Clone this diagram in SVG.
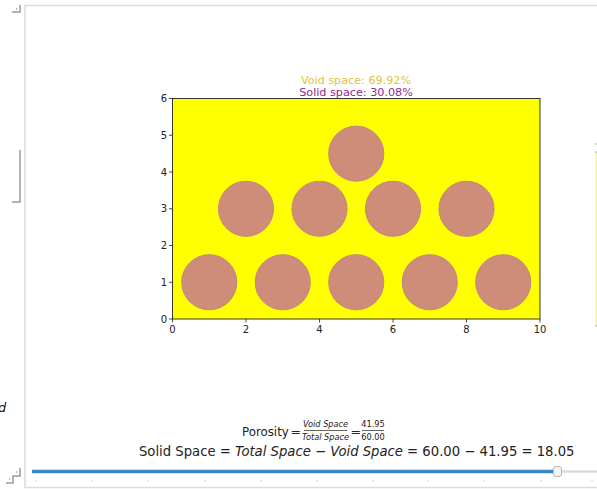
<svg xmlns="http://www.w3.org/2000/svg" width="597" height="489" viewBox="0 0 597 489">
<style>
text{font-family:"DejaVu Sans","Liberation Sans",sans-serif;fill:#222}
.tick{font-size:10px}
.grain{fill:#ce8d79;stroke:#c4867f;stroke-width:1}
.frame{stroke:#dcdcdc;stroke-width:1.5;fill:none}
.ico{stroke:#9a9a9a;stroke-width:1.5;fill:none}
.tk{stroke:#222;stroke-width:0.8}
.st{stroke:#c8c8c8;stroke-width:1}
</style>
<rect width="597" height="489" fill="#fff"/>
<g id="frame">
<path class="frame" d="M24,5.5H597M25,5V487.5H597"/>
<path class="ico" d="M20,5V12H12"/>
<path class="ico" d="M16,9h1"/>
<path class="ico" d="M20,150V202H12"/>
<path class="ico" d="M20,468V476H13V483H6"/>
<path class="ico" d="M16,472h1M9,479h1"/>
<text x="-2" y="412" style="font-size:13px;font-style:italic;fill:#111">d</text>
<rect x="595" y="152" width="2" height="174" fill="#fbfb9c"/>
<path d="M595,144h2M595,152h2M595,326h2" stroke="#aaa" stroke-width="1"/>
</g>
<g id="title">
<text x="356" y="84" text-anchor="middle" style="font-size:11.2px;fill:#e2c43c">Void space: 69.92%</text>
<text x="356" y="96" text-anchor="middle" style="font-size:11.2px;fill:#8c2a90">Solid space: 30.08%</text>
</g>
<g id="axes">
<rect x="172.5" y="98.5" width="367.5" height="220.5" fill="#ffff00"/>
<g id="grains">
<circle class="grain" cx="209.25" cy="282.25" r="27.56"/>
<circle class="grain" cx="282.75" cy="282.25" r="27.56"/>
<circle class="grain" cx="356.25" cy="282.25" r="27.56"/>
<circle class="grain" cx="429.75" cy="282.25" r="27.56"/>
<circle class="grain" cx="503.25" cy="282.25" r="27.56"/>
<circle class="grain" cx="246" cy="208.75" r="27.56"/>
<circle class="grain" cx="319.5" cy="208.75" r="27.56"/>
<circle class="grain" cx="393" cy="208.75" r="27.56"/>
<circle class="grain" cx="466.5" cy="208.75" r="27.56"/>
<circle class="grain" cx="356.25" cy="153.63" r="27.56"/>
</g>
<rect x="172.5" y="98.5" width="367.5" height="220.5" fill="none" stroke="#222" stroke-width="0.9"/>
<path class="tk" d="M172.5,319v3.5M246,319v3.5M319.5,319v3.5M393,319v3.5M466.5,319v3.5M540,319v3.5"/>
<path class="tk" d="M172.5,319h-3.5M172.5,282.25h-3.5M172.5,245.5h-3.5M172.5,208.75h-3.5M172.5,172h-3.5M172.5,135.25h-3.5M172.5,98.5h-3.5"/>
<g class="tick" text-anchor="middle">
<text x="172.5" y="333">0</text>
<text x="246" y="333">2</text>
<text x="319.5" y="333">4</text>
<text x="393" y="333">6</text>
<text x="466.5" y="333">8</text>
<text x="540" y="333">10</text>
</g>
<g class="tick" text-anchor="end">
<text x="167" y="322.5">0</text>
<text x="167" y="285.75">1</text>
<text x="167" y="249">2</text>
<text x="167" y="212.25">3</text>
<text x="167" y="175.5">4</text>
<text x="167" y="138.75">5</text>
<text x="167" y="102">6</text>
</g>
</g>
<g id="formulas">
<text x="242" y="436" style="font-size:11.8px">Porosity</text>
<text x="290.5" y="436" style="font-size:12.5px">=</text>
<text x="325.5" y="427" text-anchor="middle" style="font-size:8.2px;font-style:italic">Void Space</text>
<path d="M304,430.5H347" stroke="#222" stroke-width="0.7"/>
<text x="325.5" y="439.5" text-anchor="middle" style="font-size:8.2px;font-style:italic">Total Space</text>
<text x="350.5" y="436" style="font-size:12.5px">=</text>
<text x="373" y="427" text-anchor="middle" style="font-size:8.2px">41.95</text>
<path d="M362,430.5H384" stroke="#222" stroke-width="0.7"/>
<text x="373" y="439.5" text-anchor="middle" style="font-size:8.2px">60.00</text>
<text x="139" y="456" style="font-size:13.2px">Solid Space = <tspan style="font-style:italic">Total Space</tspan> − <tspan style="font-style:italic">Void Space</tspan> = 60.00 − 41.95 = 18.05</text>
</g>
<g id="slider">
<path d="M560,471.5H597" stroke="#dcdcdc" stroke-width="2.5"/>
<path d="M32,471.5H556" stroke="#3a87c6" stroke-width="3.5"/>
<rect x="553.5" y="466.5" width="8" height="10" rx="2.5" fill="#f4f4f4" stroke="#b8b8b8" stroke-width="1"/>
<path class="st" d="M36,480v1.5M92,480v1.5M148,480v1.5M205,480v1.5M261,480v1.5M317,480v1.5M373,480v1.5M428,480v1.5M484,480v1.5M541,480v1.5M592,480v1.5"/>
</g>
</svg>
